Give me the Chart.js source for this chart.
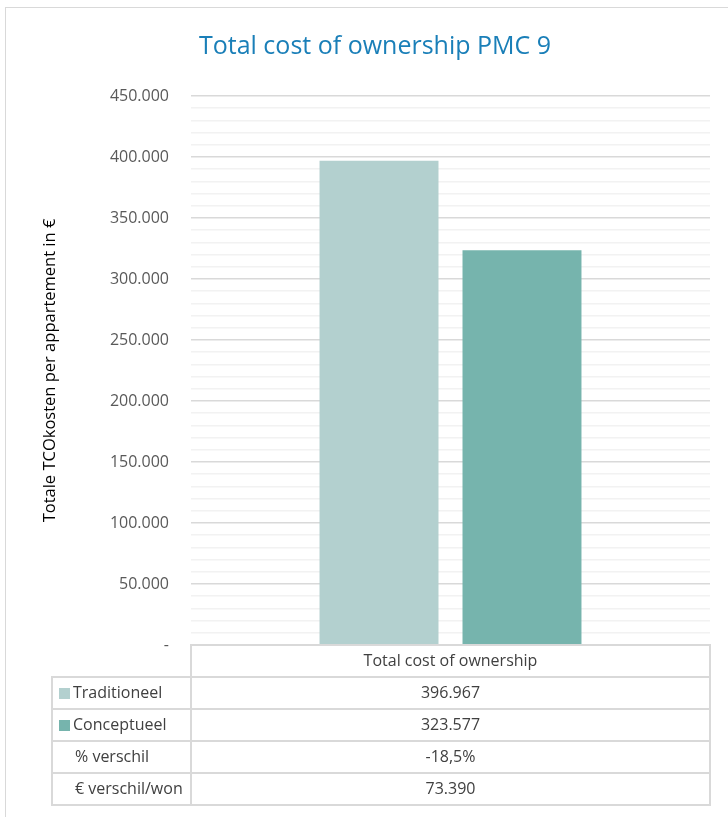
<!DOCTYPE html>
<html>
<head>
<meta charset="utf-8">
<script src="https://cdn.jsdelivr.net/npm/chart.js@4.4.1/dist/chart.umd.min.js"></script>
<style>
  html, body { margin: 0; padding: 0; background: #fff; }
  #wrap { position: relative; width: 728px; height: 817px; overflow: hidden; }
  #frame { position: absolute; left: 5px; top: 7px; width: 800px; height: 900px;
           border-top: 1px solid #d9d9d9; border-left: 1px solid #d9d9d9; }
  canvas { position: absolute; left: 0; top: 0; }
</style>
</head>
<body>
<div id="wrap">
  <div id="frame"></div>
  <canvas id="tco" width="728" height="817"></canvas>
</div>
<script>
const categories = ['Total cost of ownership'];
const series = ['Traditioneel', 'Conceptueel'];
const traditioneel = [396967];
const conceptueel = [323577];
const extraRows = ['% verschil', '€ verschil/won'];
const extraValues = ['-18,5%', '73.390'];
const colors = ['#b3d0cf', '#76b4ad'];

const FONT = '"Open Sans", "Noto Sans", sans-serif';

function fmt(v) {
    return Math.round(v).toString().replace(/\B(?=(\d{3})+(?!\d))/g, '.');
}

// draws the Excel style data table under the plot area
const dataTable = {
    id: 'dataTable',
    afterDraw(chart) {
        const ctx = chart.ctx;
        const area = chart.chartArea;
        const left = 52;
        const rowH = 32;
        const top = area.bottom;
        const rows = series.length + extraRows.length;
        const xs = chart.scales.x;
        ctx.save();
        ctx.strokeStyle = '#d9d9d9';
        ctx.lineWidth = 2;
        // header cell
        ctx.strokeRect(area.left, top, area.right - area.left, rowH);
        // body rows
        for (let r = 0; r < rows; r++) {
            const y = top + rowH * (r + 1);
            ctx.strokeRect(left, y, area.left - left, rowH);
            ctx.strokeRect(area.left, y, area.right - area.left, rowH);
        }
        ctx.font = '16px ' + FONT;
        ctx.fillStyle = '#404040';
        ctx.textBaseline = 'middle';
        ctx.textAlign = 'center';
        categories.forEach((c, i) => {
            const cx = xs.getPixelForValue(i);
            ctx.fillText(c, cx, top + rowH / 2);
            const vals = [traditioneel[i], conceptueel[i]].map(fmt).concat(extraValues);
            vals.forEach((v, r) => ctx.fillText(v, cx, top + rowH * (r + 1.5)));
        });
        ctx.textAlign = 'left';
        series.forEach((s, r) => {
            const cy = top + rowH * (r + 1.5);
            ctx.fillStyle = colors[r];
            ctx.fillRect(59, cy - 5, 11, 11);
            ctx.fillStyle = '#404040';
            ctx.fillText(s, 73, cy);
        });
        extraRows.forEach((s, r) => {
            ctx.fillText(s, 75, top + rowH * (series.length + r + 1.5));
        });
        ctx.restore();
    }
};

const tco = new Chart(
    document.getElementById('tco'),
    {
    type: 'bar',
    data: {
        labels: categories,
        datasets: [{
            label: series[0],
            data: traditioneel,
            backgroundColor: colors[0]
        }, {
            label: series[1],
            data: conceptueel,
            backgroundColor: colors[1]
        }]
    },
    options: {
        responsive: false,
        animation: false,
        categoryPercentage: 0.551,
        barPercentage: 0.832,
        layout: {
            padding: { left: 40, right: 18, top: 0, bottom: 172 }
        },
        plugins: {
            legend: { display: false },
            tooltip: { enabled: false },
            title: {
                display: true,
                text: 'Total cost of ownership PMC 9',
                color: '#1a7fb8',
                font: { family: FONT, size: 25, weight: 'normal' },
                padding: { top: 32, bottom: 34 }
            }
        },
        scales: {
            x: {
                display: false
            },
            y: {
                min: 0,
                max: 450000,
                afterFit(scale) { scale.width = 151; },
                border: { display: false },
                grid: {
                    drawTicks: false,
                    color: c => (c.tick.value % 50000 === 0 ? '#d9d9d9' : '#f2f2f2'),
                    lineWidth: 1.5
                },
                ticks: {
                    stepSize: 10000,
                    autoSkip: false,
                    padding: 22,
                    color: '#595959',
                    font: { family: FONT, size: 16 },
                    callback: v => (v === 0 ? '-' : (v % 50000 === 0 ? fmt(v) : ''))
                },
                title: {
                    display: true,
                    text: 'Totale TCOkosten per appartement in €',
                    color: '#000',
                    font: { family: FONT, size: 16.5 },
                    padding: { top: 0, bottom: 0 }
                }
            }
        }
    },
    plugins: [dataTable]
    }
);
</script>
</body>
</html>
